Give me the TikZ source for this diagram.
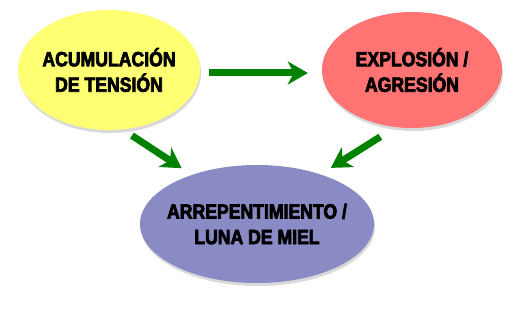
\documentclass[tikz,border=0pt]{standalone}
\usepackage{fontspec}
\setmainfont{Liberation Sans}[FakeStretch=0.86, BoldFeatures={FakeBold=3.5}]
\usepackage{tikz}
\usetikzlibrary{shapes.geometric, arrows.meta, shadows}
\definecolor{amarillo}{HTML}{FFFF73}
\definecolor{rojo}{HTML}{FF7373}
\definecolor{lila}{HTML}{8A8AC4}
\definecolor{verde}{HTML}{008200}
\begin{document}
\begin{tikzpicture}[
                x=1pt, y=1pt,
                fase/.style={ellipse, draw=none, align=center, inner xsep=-15pt, inner ysep=0pt, font=\fontsize{20.5}{25.5}\selectfont\bfseries, drop shadow={shadow xshift=1pt, shadow yshift=-3pt, opacity=0.3}},
                flecha/.style={draw=verde, line width=7pt, -{Stealth[length=20pt, width=23pt, inset=6pt]}}
            ]%
            \useasboundingbox (0,0) rectangle (520,310);
            %
            % Fases del ciclo
            \node[fase, fill=amarillo, minimum width=182pt, minimum height=120pt] (tension) at (109,240) {ACUMULACIÓN\\DE TENSIÓN};
            \node[fase, fill=rojo, minimum width=180pt, minimum height=116pt] (explosion) at (412,240) {EXPLOSIÓN /\\AGRESIÓN};
            \node[fase, fill=lila, minimum width=234pt, minimum height=118pt] (miel) at (257,86) {ARREPENTIMIENTO /\\LUNA DE MIEL};
            %
            % Flechas
            \draw[flecha, shorten <=9pt, shorten >=14pt] ([yshift=-3pt]tension.east) -- ([yshift=-3pt]explosion.west);
            \draw[flecha, shorten <=11pt, shorten >=12pt] (tension.-77) -- (miel.143);
            \draw[flecha, shorten <=18pt, shorten >=12pt] (explosion.-106) -- (miel.38);
        \end{tikzpicture}
\end{document}
